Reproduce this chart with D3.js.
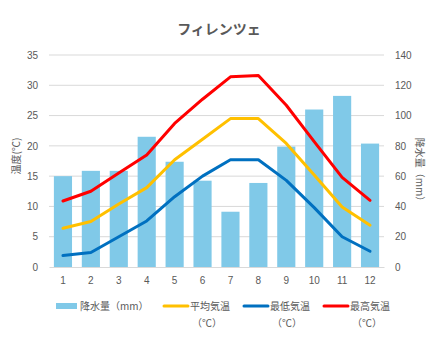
<!DOCTYPE html>
<html>
<head>
<meta charset="utf-8">
<script src="https://cdn.jsdelivr.net/npm/d3@7"></script>
<style>
  body { margin: 0; background: #fff; }
  svg { display: block; font-family: "Noto Sans CJK JP", "Liberation Sans", sans-serif; }
</style>
</head>
<body>
<svg id="chart" width="439" height="337"></svg>
<script>
// Florence monthly climate
const months = ["1","2","3","4","5","6","7","8","9","10","11","12"];
const precip = [60, 63.5, 63.5, 86, 69.5, 57, 36.5, 55.5, 79.5, 104, 113, 81.5];   // mm
const tempAvg = [6.4, 7.5, 10.4, 13.1, 17.7, 21.1, 24.5, 24.5, 20.4, 15.2, 9.9, 6.9]; // ℃
const tempMin = [1.9, 2.4, 5.0, 7.6, 11.6, 15.0, 17.7, 17.7, 14.3, 9.8, 5.0, 2.6];   // ℃
const tempMax = [10.9, 12.5, 15.5, 18.5, 23.7, 27.7, 31.4, 31.6, 26.7, 20.7, 14.8, 11.0]; // ℃
const leftTicks = [0, 5, 10, 15, 20, 25, 30, 35];
const rightTicks = [0, 20, 40, 60, 80, 100, 120, 140];

const svg = d3.select("#chart");
const plot = { left: 49, right: 384, top: 55, bottom: 267 };
const textColor = "#595959";

const x = d3.scaleBand().domain(months).range([plot.left, plot.right]).paddingInner(0.35).paddingOuter(0.175);
const xc = d3.scalePoint().domain(months).range([plot.left, plot.right]).padding(0.5);
const yT = d3.scaleLinear().domain([0, 35]).range([plot.bottom, plot.top]);
const yP = d3.scaleLinear().domain([0, 140]).range([plot.bottom, plot.top]);

// title
svg.append("text").attr("x", 219).attr("y", 34).attr("text-anchor", "middle")
  .attr("font-size", 14).attr("font-weight", "bold").attr("fill", textColor).text("フィレンツェ");

// gridlines
svg.append("g").selectAll("line").data(leftTicks.filter(d => d > 0)).join("line")
  .attr("x1", plot.left).attr("x2", plot.right)
  .attr("y1", d => yT(d)).attr("y2", d => yT(d))
  .attr("stroke", "#d9d9d9").attr("stroke-width", 1);

// left axis
const axL = svg.append("g").attr("transform", `translate(${plot.left},0)`)
  .call(d3.axisLeft(yT).tickValues(leftTicks).tickSize(0).tickPadding(11));
axL.select(".domain").remove();
axL.selectAll("text").attr("font-size", 10).attr("fill", textColor).attr("font-family", "Liberation Sans, sans-serif");

// right axis
const axR = svg.append("g").attr("transform", `translate(${plot.right},0)`)
  .call(d3.axisRight(yP).tickValues(rightTicks).tickSize(0).tickPadding(11));
axR.select(".domain").remove();
axR.selectAll("text").attr("font-size", 10).attr("fill", textColor).attr("font-family", "Liberation Sans, sans-serif");

// bars
svg.append("g").selectAll("rect").data(precip).join("rect")
  .attr("x", (d, i) => x(months[i])).attr("width", x.bandwidth())
  .attr("y", d => yP(d)).attr("height", d => yP(0) - yP(d))
  .attr("fill", "#80c9e8");

// x axis
const axB = svg.append("g").attr("transform", `translate(0,${plot.bottom})`)
  .call(d3.axisBottom(x).tickSize(0).tickPadding(10));
axB.select(".domain").attr("stroke", "#d9d9d9");
axB.selectAll("text").attr("font-size", 10).attr("fill", textColor).attr("font-family", "Liberation Sans, sans-serif");

// temperature lines
const line = d3.line().x((d, i) => xc(months[i])).y(d => yT(d));
const series = [
  { values: tempAvg, color: "#ffc000" },
  { values: tempMin, color: "#0070c0" },
  { values: tempMax, color: "#ff0000" }
];
svg.append("g").selectAll("path").data(series).join("path")
  .attr("d", s => line(s.values)).attr("fill", "none")
  .attr("stroke", s => s.color).attr("stroke-width", 3)
  .attr("stroke-linejoin", "round").attr("stroke-linecap", "round");

// axis titles
svg.append("text").attr("transform", "translate(20,156) rotate(-90)").attr("text-anchor", "middle")
  .attr("font-size", 10).attr("fill", textColor).text("温度(℃)");
svg.append("text").attr("transform", "translate(416,172) rotate(90)").attr("text-anchor", "middle")
  .attr("font-size", 10).attr("fill", textColor).text("降水量（mm）");

// legend
const lg = svg.append("g").attr("font-size", 10).attr("fill", textColor);
lg.append("rect").attr("x", 56).attr("y", 303).attr("width", 21).attr("height", 6).attr("fill", "#80c9e8");
lg.append("text").attr("x", 80).attr("y", 310).text("降水量（mm）");
const legendLines = [
  { x: 164, label: "平均気温", color: "#ffc000" },
  { x: 244, label: "最低気温", color: "#0070c0" },
  { x: 324, label: "最高気温", color: "#ff0000" }
];
legendLines.forEach(l => {
  lg.append("line").attr("x1", l.x).attr("x2", l.x + 24).attr("y1", 306).attr("y2", 306)
    .attr("stroke", l.color).attr("stroke-width", 3).attr("stroke-linecap", "round");
  lg.append("text").attr("x", l.x + 26).attr("y", 310).text(l.label);
  lg.append("text").attr("x", l.x + 28).attr("y", 327).text("（℃）");
});
</script>
</body>
</html>
